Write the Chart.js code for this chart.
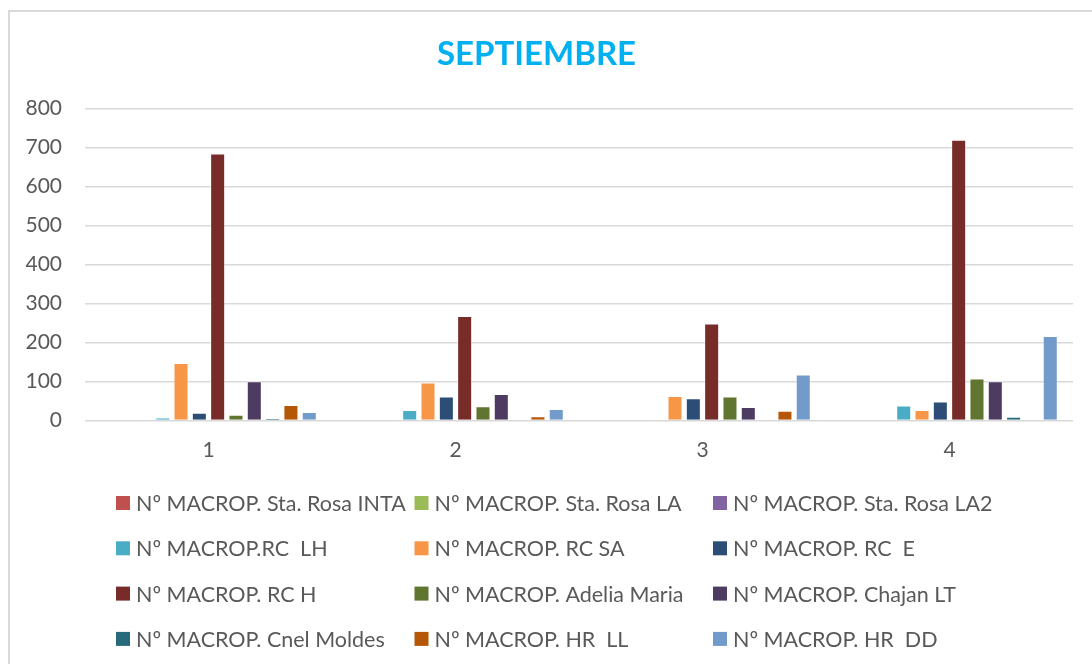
<!DOCTYPE html>
<html>
<head>
<meta charset="utf-8">
<script src="https://cdn.jsdelivr.net/npm/chart.js@4.4.1/dist/chart.umd.min.js"></script>
<style>
  html, body { margin: 0; padding: 0; background: #ffffff; }
  #frame {
    position: absolute; left: 8px; top: 10px; width: 1200px; height: 800px;
    border-left: 2px solid #d9d9d9; border-top: 2px solid #d9d9d9;
  }
  #chart { position: absolute; left: 0; top: 0; }
</style>
</head>
<body>
<div id="frame"></div>
<canvas id="chart" width="1092" height="664"></canvas>
<script>
// categories (weeks) and series values
const categories = ['1', '2', '3', '4'];
const yTicks = [0, 100, 200, 300, 400, 500, 600, 700, 800];

const seriesNames = [
  'Nº MACROP. Sta. Rosa INTA',
  'Nº MACROP. Sta. Rosa LA',
  'Nº MACROP. Sta. Rosa LA2',
  'Nº MACROP.RC  LH',
  'Nº MACROP. RC SA',
  'Nº MACROP. RC  E',
  'Nº MACROP. RC H',
  'Nº MACROP. Adelia Maria',
  'Nº MACROP. Chajan LT',
  'Nº MACROP. Cnel Moldes',
  'Nº MACROP. HR  LL',
  'Nº MACROP. HR  DD',
];

const staRosaInta = [0, 0, 0, 0];
const staRosaLa = [0, 0, 0, 0];
const staRosaLa2 = [2, 0, 0, 0];
const rcLh = [8, 27, 0, 39];
const rcSa = [148, 98, 63, 27];
const rcE = [20, 62, 57, 49];
const rcH = [685, 268, 249, 720];
const adeliaMaria = [15, 37, 62, 108];
const chajanLt = [101, 68, 35, 101];
const cnelMoldes = [6, 2, 0, 10];
const hrLl = [40, 11, 25, 0];
const hrDd = [22, 30, 118, 217];

const seriesValues = [
  staRosaInta, staRosaLa, staRosaLa2, rcLh, rcSa, rcE,
  rcH, adeliaMaria, chajanLt, cnelMoldes, hrLl, hrDd,
];

const seriesColors = [
  '#C0504D', '#9BBB59', '#8064A2', '#4BACC6', '#F79646', '#2C4D75',
  '#772C2A', '#5F7530', '#4D3B62', '#276A7C', '#B65708', '#729ACA',
];

const textColor = '#595959';
const gridColor = '#d9d9d9';
const fontFamily = 'Lato, "Open Sans", sans-serif';

/**
 * Legend in a fixed 3-column grid below the plot, like the original.
 */
const gridLegend = {
  id: 'gridLegend',
  afterDraw(chart) {
    const ctx = chart.ctx;
    ctx.save();
    ctx.font = '21.5px ' + fontFamily;
    ctx.textBaseline = 'middle';
    ctx.textAlign = 'left';
    chart.data.datasets.forEach((ds, i) => {
      const col = i % 3;
      const row = Math.floor(i / 3);
      const x = 116 + col * 298.5;
      const y = 503 + row * 45.3;
      ctx.fillStyle = ds.backgroundColor;
      ctx.fillRect(x, y - 7, 14, 14);
      ctx.fillStyle = textColor;
      ctx.fillText(ds.label, x + 20, y + 1);
    });
    ctx.restore();
  },
};

const ctx = document.getElementById('chart').getContext('2d');
new Chart(ctx, {
  type: 'bar',
  data: {
    labels: categories,
    datasets: seriesNames.map((name, i) => ({
      label: name,
      data: seriesValues[i],
      backgroundColor: seriesColors[i],
      borderColor: 'rgba(255, 255, 255, 0.45)',
      borderWidth: 1,
      categoryPercentage: 0.89,
      barPercentage: 0.82,
    })),
  },
  options: {
    responsive: false,
    animation: false,
    layout: { padding: { left: 0, right: 19, top: 0, bottom: 185 } },
    plugins: {
      legend: { display: false },
      tooltip: { enabled: false },
      title: {
        display: true,
        text: 'SEPTIEMBRE',
        color: '#00B0F0',
        font: { family: fontFamily, size: 33, weight: 'bold' },
        padding: { top: 35, bottom: 34 },
      },
    },
    scales: {
      x: {
        grid: { display: false, drawTicks: false },
        border: { display: false },
        ticks: { color: textColor, font: { family: fontFamily, size: 21 }, padding: 16.6 },
      },
      y: {
        min: 0,
        max: 800,
        afterBuildTicks(scale) {
          scale.ticks = yTicks.map(v => ({ value: v }));
        },
        afterFit(scale) { scale.width = 85; },
        grid: { color: gridColor, lineWidth: 1.5, drawTicks: false },
        border: { display: false },
        ticks: { color: textColor, font: { family: fontFamily, size: 21 }, padding: 23 },
      },
    },
  },
  plugins: [gridLegend],
});
</script>
</body>
</html>
